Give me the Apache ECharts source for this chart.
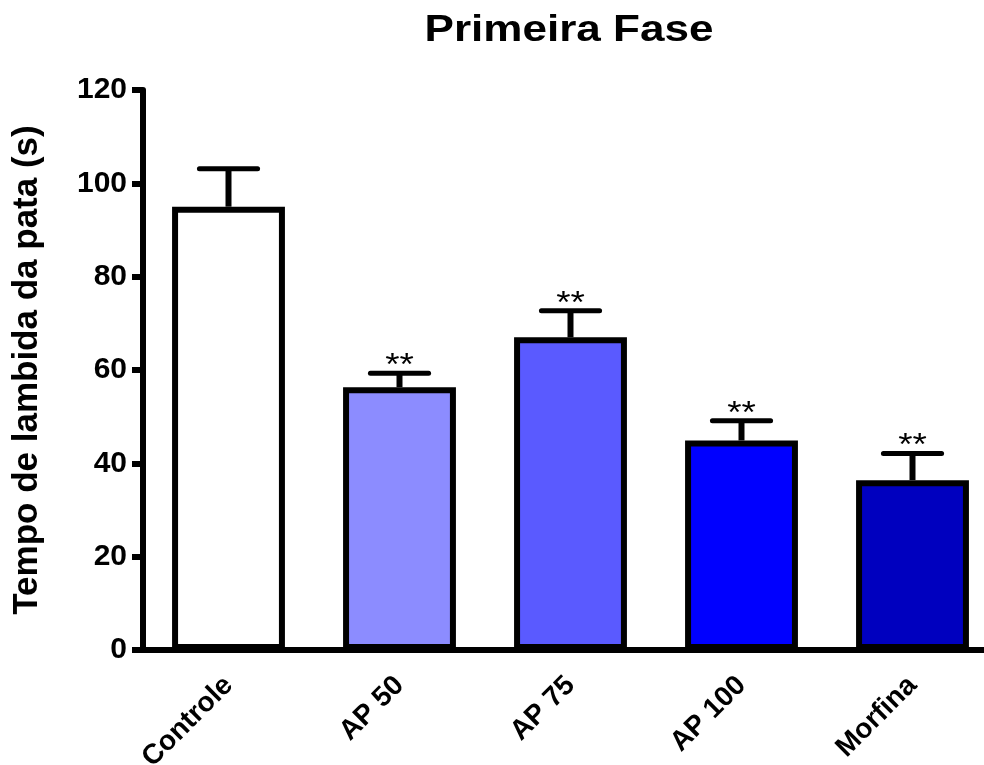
<!DOCTYPE html>
<html>
<head>
<meta charset="utf-8">
<script src="https://cdn.jsdelivr.net/npm/echarts@6/dist/echarts.min.js"></script>
<style>html,body{margin:0;padding:0;background:#fff}#c{width:984px;height:765px}</style>
</head>
<body>
<div id="c"></div>
<script>
const categories = ['Controle', 'AP 50', 'AP 75', 'AP 100', 'Morfina'];
const means = [95, 56.3, 67.0, 44.9, 36.4];
const errors = [8.1, 3.0, 5.7, 4.2, 5.7];
const significance = ['', '**', '**', '**', '**'];
const barColors = ['#ffffff', '#8c8cff', '#5a5aff', '#0000ff', '#0000bf'];
const yTicks = [0, 20, 40, 60, 80, 100, 120];
const titleText = 'Primeira Fase';
const yAxisTitle = 'Tempo de lambida da pata (s)';

const FONT = '"Liberation Sans", Arial, sans-serif';
const chart = echarts.init(document.getElementById('c'));
chart.setOption({
  animation: false,
  backgroundColor: '#fff',
  graphic: [{
    type: 'text', x: 569, y: 31, scaleX: 1.19,
    style: { text: titleText, fill: '#000', font: 'bold 37px "Liberation Sans", Arial, sans-serif',
      textAlign: 'center', textVerticalAlign: 'middle' }
  }],
  grid: { left: 143, top: 90, right: -14, bottom: 115, containLabel: false, outerBoundsMode: 'none' },
  xAxis: {
    type: 'category', data: categories,
    axisLine: { lineStyle: { color: '#000', width: 6 } },
    axisTick: { alignWithLabel: true, length: 11, lineStyle: { color: '#000', width: 6 } },
    axisLabel: { rotate: 45, margin: 31, fontFamily: FONT, fontWeight: 'bold', fontSize: 28, color: '#000' }
  },
  yAxis: {
    type: 'value', min: 0, max: 120, interval: 20,
    name: yAxisTitle, nameLocation: 'middle', nameGap: 98,
    nameTextStyle: { fontFamily: FONT, fontWeight: 'bold', fontSize: 35, color: '#000' },
    axisLine: { show: true, lineStyle: { color: '#000', width: 6 } },
    axisTick: { show: true, length: 11, lineStyle: { color: '#000', width: 6 } },
    splitLine: { show: false },
    axisLabel: { margin: 16, fontFamily: FONT, fontWeight: 'bold', fontSize: 30, color: '#000',
      formatter: v => yTicks.includes(v) ? String(v) : '' }
  },
  series: [
    {
      type: 'bar', barWidth: '66%',
      data: means.map((v, i) => ({ value: v, itemStyle: { color: barColors[i] } })),
      itemStyle: { borderColor: '#000', borderWidth: 6 }
    },
    {
      type: 'custom', z: 1,
      data: means.map((v, i) => [i, v, v + errors[i], significance[i]]),
      renderItem: function (params, api) {
        const x = api.value(0);
        const base = api.coord([x, api.value(1)]);
        const top = api.coord([x, api.value(2)]);
        const halfCap = api.size([1, 0])[0] * 0.17;
        const children = [
          { type: 'line', shape: { x1: base[0], y1: base[1], x2: top[0], y2: top[1] },
            style: { stroke: '#000', lineWidth: 6 } },
          { type: 'line', shape: { x1: top[0] - halfCap, y1: top[1], x2: top[0] + halfCap, y2: top[1] },
            style: { stroke: '#000', lineWidth: 5, lineCap: 'round' } }
        ];
        const s = api.value(3);
        if (s) {
          children.push({ type: 'text', x: top[0], y: top[1] + 9, scaleX: 1.15,
            style: { text: s, fill: '#000', fontSize: 32, fontFamily: FONT, align: 'center', verticalAlign: 'bottom' } });
        }
        return { type: 'group', children: children };
      }
    }
  ]
});
</script>
</body>
</html>
